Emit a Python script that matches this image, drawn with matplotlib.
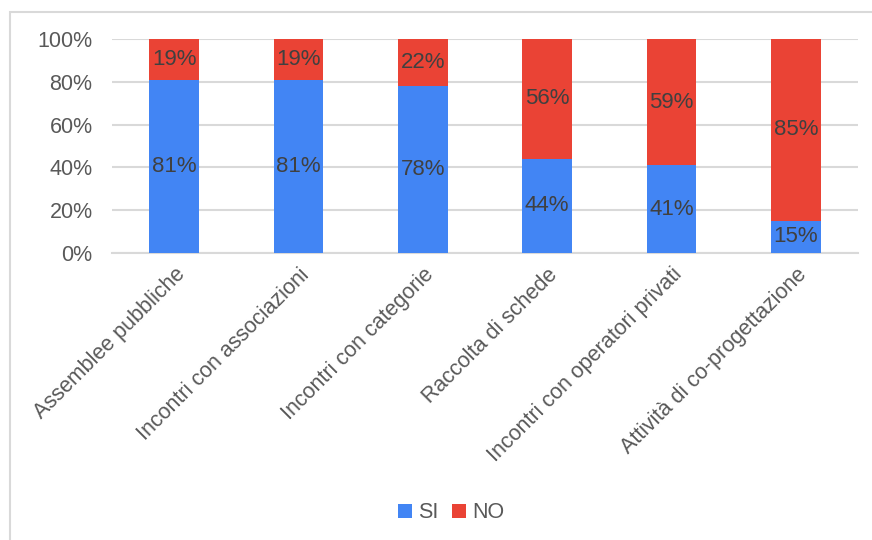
import matplotlib
matplotlib.use("Agg")
import matplotlib.pyplot as plt
from matplotlib.patches import Rectangle

plt.rcParams['font.family'] = ['Liberation Sans', 'DejaVu Sans']

categories = [
    "Assemblee pubbliche",
    "Incontri con associazioni",
    "Incontri con categorie",
    "Raccolta di schede",
    "Incontri con operatori privati",
    "Attività di co-progettazione",
]
si_values = [81, 81, 78, 44, 41, 15]
no_values = [19, 19, 22, 56, 59, 85]
y_ticks = [0, 20, 40, 60, 80, 100]

BLUE = "#4285F4"
RED = "#EA4335"
GRID = "#D9D9D9"
TICK_TXT = "#595959"
LBL_TXT = "#404040"
FS = 15.5

fig = plt.figure(figsize=(8.72, 5.4), dpi=100)
ax = fig.add_axes([112 / 872, 1 - 253 / 540, (858 - 112) / 872, (253 - 39) / 540])

# outer chart frame
fig.add_artist(Rectangle((10 / 872, -0.05), 1.0, 1 - 12 / 540 + 0.05,
                         transform=fig.transFigure, fill=False,
                         edgecolor="#D9D9D9", linewidth=1.5))

x = list(range(len(categories)))
w = 0.4
bars_si = ax.bar(x, si_values, width=w, color=BLUE, label="SI", zorder=3)
bars_no = ax.bar(x, no_values, width=w, bottom=si_values, color=RED, label="NO", zorder=3)

for bars, vals in ((bars_si, si_values), (bars_no, no_values)):
    for rect, v in zip(bars, vals):
        ax.text(rect.get_x() + rect.get_width() / 2, rect.get_y() + rect.get_height() / 2,
                f"{v}%", ha="center", va="center", fontsize=16, color=LBL_TXT, zorder=4)

ax.set_xlim(-0.5, len(categories) - 0.5)
ax.set_ylim(0, 100)
ax.set_yticks(y_ticks)
ax.set_yticklabels([f"{t}%" for t in y_ticks], fontsize=FS, color=TICK_TXT)
ax.set_xticks(x)
ax.set_xticklabels(categories, rotation=45, ha="right", rotation_mode="anchor",
                   fontsize=FS, color=TICK_TXT)
ax.tick_params(axis="both", length=0)
ax.tick_params(axis="y", pad=14)
ax.tick_params(axis="x", pad=8)

ax.grid(axis="y", color=GRID, linewidth=1.5, zorder=0)
for s in ["top", "right", "left"]:
    ax.spines[s].set_visible(False)
ax.spines["bottom"].set_color(GRID)
ax.spines["bottom"].set_linewidth(1.5)

fig.legend(handles=[bars_si, bars_no], labels=["SI", "NO"], loc="center",
           bbox_to_anchor=(451 / 872, 1 - 513 / 540), ncol=2, frameon=False,
           fontsize=FS, labelcolor=TICK_TXT, handlelength=0.65, handleheight=0.65,
           handletextpad=0.3, columnspacing=0.6)

fig.savefig("out.png", dpi=100, facecolor="white")
